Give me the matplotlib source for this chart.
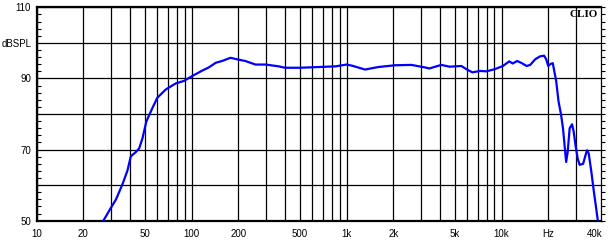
import matplotlib.pyplot as plt
import numpy as np

# frequency response
freq = [27, 30.1, 32.5, 35.8, 38.5, 40.5, 43.6, 45.8, 48.1, 51, 55.8, 60.1, 68.1, 78.9,
        89.2, 101, 117, 129, 143, 157, 178, 200, 222, 258, 300, 364, 400, 500, 659,
        850, 1000, 1080, 1315, 1600, 2050, 2620, 3200, 3420, 4080, 4620, 5500, 5930,
        6480, 7230, 8000, 9050, 10200, 11200, 11800, 12600, 13500, 14500, 15300,
        16500, 17700, 18800, 19400, 20000, 20600, 21400, 22000, 22500, 23300, 24200,
        24900, 25500, 26100, 26700, 27500, 28500, 29200, 30000, 31000, 31900, 33600,
        34800, 35600, 36500, 38000, 39200, 40600, 41700]
spl = [50.1, 53.6, 56.0, 60.3, 64.1, 68.1, 69.3, 70.3, 73.1, 77.9, 81.7, 84.6, 86.9, 88.6,
       89.3, 90.7, 92.2, 93.1, 94.4, 94.9, 95.8, 95.3, 94.9, 93.9, 93.9, 93.4, 93.0, 93.0, 93.2,
       93.4, 93.9, 93.6, 92.5, 93.2, 93.7, 93.8, 93.1, 92.8, 93.8, 93.3, 93.5, 92.6,
       91.7, 92.1, 92.0, 92.6, 93.5, 94.8, 94.2, 94.9, 94.3, 93.5, 93.8,
       95.4, 96.2, 96.4, 95.4, 93.5, 94.0, 94.3, 91.5, 89.3, 83.6, 79.8,
       76.0, 71.2, 66.5, 69.3, 76.0, 77.1, 75.0, 71.2, 67.4, 65.7, 66.0,
       68.4, 69.8, 68.9, 63.6, 58.9, 54.1, 50.3]

x_labels = {10: "10", 20: "20", 50: "50", 100: "100", 200: "200", 500: "500",
            1000: "1k", 2000: "2k", 5000: "5k", 10000: "10k", 20000: "Hz"}
y_labels = {50: "50", 70: "70", 90: "90", 100: "dBSPL", 110: "110"}

grid_f = [m * 10 ** d for d in range(1, 5) for m in range(1, 10) if m * 10 ** d <= 30000]
grid_db = list(range(50, 111, 10))

fig = plt.figure(figsize=(6.12, 2.49), dpi=100)
ax = fig.add_axes([0.060, 0.1137, 0.922, 0.857])

ax.semilogx(freq, spl, color="#0000ff", lw=1.6, zorder=3)
ax.set_xlim(10, 43800)
ax.set_ylim(50, 110)

ax.set_xticks(grid_f, [x_labels.get(f, "") for f in grid_f])
ax.set_xticks([40000], ["40k"], minor=True)
ax.set_yticks(grid_db, [y_labels.get(v, "") for v in grid_db])
ax.set_yticks(np.arange(50, 111, 2), minor=True)
ax.grid(True, which="major", color="black", lw=0.9)
ax.tick_params(axis="x", which="both", length=0, pad=6, labelsize=7)
ax.tick_params(axis="y", which="major", length=0, pad=4, labelsize=7)
ax.tick_params(axis="y", which="minor", direction="in", length=3, width=0.8)

for s in ax.spines.values():
    s.set_linewidth(1.6)
ax.spines["right"].set_linewidth(0.9)

# right side ticks stick out
ax2 = ax.twinx()
ax2.set_ylim(50, 110)
ax2.set_yticks(np.arange(50, 111, 2), minor=True)
ax2.set_yticks([])
ax2.tick_params(axis="y", which="minor", direction="out", length=3, width=0.8)
for s in ax2.spines.values():
    s.set_visible(False)

ax.text(0.995, 0.964, "CLIO", transform=ax.transAxes, ha="right", va="center",
        fontsize=8, fontweight="bold", family="Liberation Serif", zorder=4)

for lab in ax.get_xticklabels() + ax.get_yticklabels() + ax.get_xticklabels(minor=True):
    lab.set_family("Liberation Sans")

plt.savefig("out.png", dpi=100)
